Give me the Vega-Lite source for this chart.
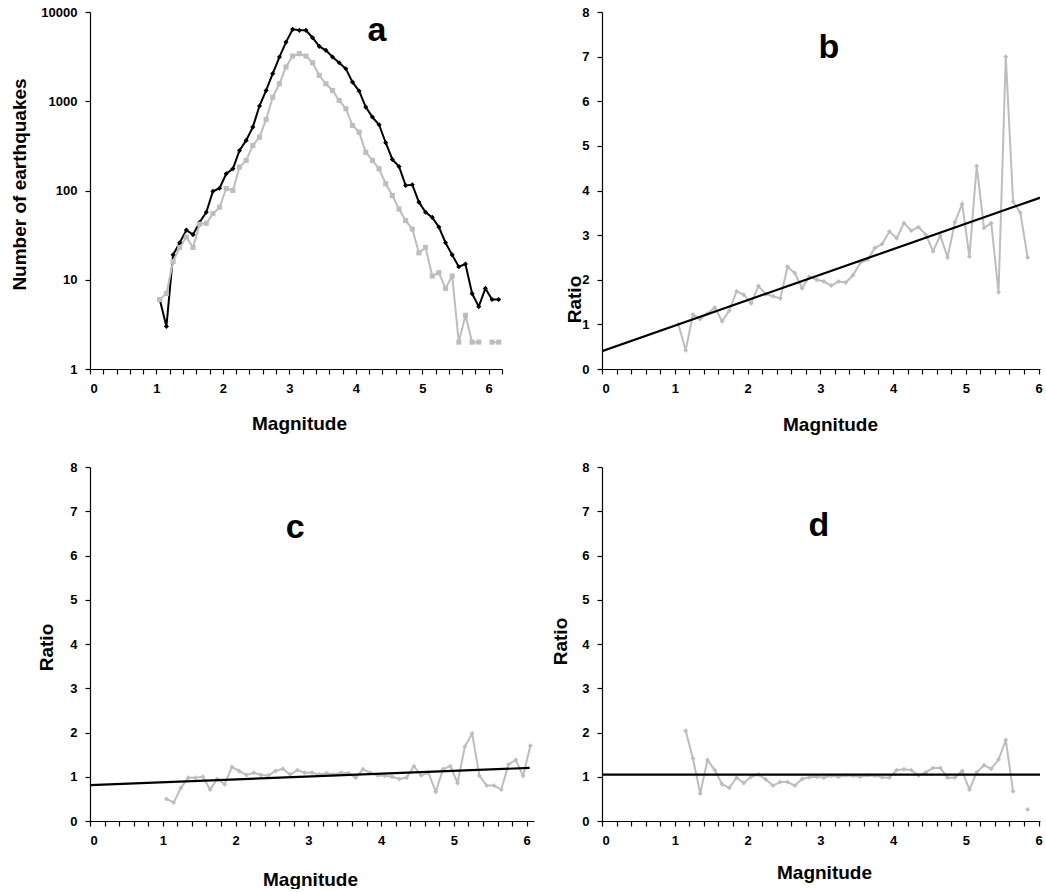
{
  "$schema": "https://vega.github.io/schema/vega-lite/v6.json",
  "background": "white",
  "padding": {"left": 10, "top": 6, "right": 0, "bottom": 0},
  "config": {
    "view": {"stroke": null},
    "font": "Liberation Sans",
    "axis": {
      "grid": false,
      "domainColor": "#000000", "domainWidth": 1.2,
      "tickColor": "#000000", "tickWidth": 1.2, "tickSize": 5,
      "labelColor": "#000000", "labelFont": "Liberation Sans", "labelFontSize": 13, "labelFontWeight": "bold", "labelPadding": 8,
      "labelOverlap": false,
      "titleColor": "#000000", "titleFont": "Liberation Sans", "titleFontSize": 19, "titleFontWeight": "bold",
      "titleBaseline": "middle", "titleAlign": "center"
    }
  },
  "datasets": {
    "counts": [
      {"m":1.05,"n_all":6,"n_sub":6},{"m":1.15,"n_all":3,"n_sub":7},{"m":1.25,"n_all":19,"n_sub":16},{"m":1.35,"n_all":26,"n_sub":23},
      {"m":1.45,"n_all":36,"n_sub":30},{"m":1.55,"n_all":32,"n_sub":23},{"m":1.65,"n_all":44,"n_sub":42},{"m":1.75,"n_all":57,"n_sub":43},
      {"m":1.85,"n_all":98,"n_sub":55},{"m":1.95,"n_all":106,"n_sub":65},{"m":2.05,"n_all":154,"n_sub":105},{"m":2.15,"n_all":175,"n_sub":100},
      {"m":2.25,"n_all":281,"n_sub":183},{"m":2.35,"n_all":364,"n_sub":217},{"m":2.45,"n_all":513,"n_sub":320},{"m":2.55,"n_all":883,"n_sub":396},
      {"m":2.65,"n_all":1320,"n_sub":625},{"m":2.75,"n_all":2040,"n_sub":1110},{"m":2.85,"n_all":3130,"n_sub":1570},{"m":2.95,"n_all":4600,"n_sub":2420},
      {"m":3.05,"n_all":6390,"n_sub":3210},{"m":3.15,"n_all":6230,"n_sub":3410},{"m":3.25,"n_all":6230,"n_sub":3210},{"m":3.35,"n_all":5150,"n_sub":2700},
      {"m":3.45,"n_all":4120,"n_sub":1950},{"m":3.55,"n_all":3720,"n_sub":1570},{"m":3.65,"n_all":3130,"n_sub":1320},{"m":3.75,"n_all":2700,"n_sub":1020},
      {"m":3.85,"n_all":2310,"n_sub":824},{"m":3.95,"n_all":1640,"n_sub":536},{"m":4.05,"n_all":1300,"n_sub":451},{"m":4.15,"n_all":860,"n_sub":268},
      {"m":4.25,"n_all":665,"n_sub":217},{"m":4.35,"n_all":545,"n_sub":175},{"m":4.45,"n_all":343,"n_sub":119},{"m":4.55,"n_all":223,"n_sub":88},
      {"m":4.65,"n_all":186,"n_sub":62},{"m":4.75,"n_all":114,"n_sub":46},{"m":4.85,"n_all":116,"n_sub":37},{"m":4.95,"n_all":74,"n_sub":20},
      {"m":5.05,"n_all":57,"n_sub":23},{"m":5.15,"n_all":50,"n_sub":11},{"m":5.25,"n_all":39,"n_sub":12},{"m":5.35,"n_all":26,"n_sub":8},
      {"m":5.45,"n_all":19,"n_sub":11},{"m":5.55,"n_all":14,"n_sub":2},{"m":5.65,"n_all":15,"n_sub":4},{"m":5.75,"n_all":7,"n_sub":2},
      {"m":5.85,"n_all":5,"n_sub":2},{"m":5.95,"n_all":8,"n_sub":null},{"m":6.05,"n_all":6,"n_sub":2},{"m":6.15,"n_all":6,"n_sub":2}
    ],
    "ratio_b": [
      {"m":1.05,"r":1.0},{"m":1.15,"r":0.42},{"m":1.25,"r":1.22},{"m":1.35,"r":1.12},{"m":1.45,"r":1.24},{"m":1.55,"r":1.38},
      {"m":1.65,"r":1.07},{"m":1.75,"r":1.31},{"m":1.85,"r":1.74},{"m":1.95,"r":1.66},{"m":2.05,"r":1.47},{"m":2.15,"r":1.86},
      {"m":2.25,"r":1.68},{"m":2.35,"r":1.63},{"m":2.45,"r":1.58},{"m":2.55,"r":2.29},{"m":2.65,"r":2.15},{"m":2.75,"r":1.81},
      {"m":2.85,"r":2.07},{"m":2.95,"r":2.0},{"m":3.05,"r":1.96},{"m":3.15,"r":1.87},{"m":3.25,"r":1.96},{"m":3.35,"r":1.94},
      {"m":3.45,"r":2.1},{"m":3.55,"r":2.38},{"m":3.65,"r":2.45},{"m":3.75,"r":2.71},{"m":3.85,"r":2.8},{"m":3.95,"r":3.08},
      {"m":4.05,"r":2.93},{"m":4.15,"r":3.27},{"m":4.25,"r":3.1},{"m":4.35,"r":3.18},{"m":4.45,"r":3.01},{"m":4.55,"r":2.64},
      {"m":4.65,"r":2.99},{"m":4.75,"r":2.5},{"m":4.85,"r":3.29},{"m":4.95,"r":3.7},{"m":5.05,"r":2.52},{"m":5.15,"r":4.55},
      {"m":5.25,"r":3.16},{"m":5.35,"r":3.27},{"m":5.45,"r":1.72},{"m":5.55,"r":7.0},{"m":5.65,"r":3.75},{"m":5.75,"r":3.5},
      {"m":5.85,"r":2.5},{"m":5.95,"r":null},{"m":6.05,"r":3.0},{"m":6.15,"r":3.0}
    ],
    "fit_b": [{"m":0,"r":0.4},{"m":6.05,"r":3.855}],
    "ratio_c": [
      {"m":1.05,"r":0.5},{"m":1.15,"r":0.42},{"m":1.25,"r":0.75},{"m":1.35,"r":0.98},{"m":1.45,"r":0.98},{"m":1.55,"r":1.0},
      {"m":1.65,"r":0.71},{"m":1.75,"r":0.95},{"m":1.85,"r":0.83},{"m":1.95,"r":1.22},{"m":2.05,"r":1.13},{"m":2.15,"r":1.04},
      {"m":2.25,"r":1.09},{"m":2.35,"r":1.04},{"m":2.45,"r":1.03},{"m":2.55,"r":1.13},{"m":2.65,"r":1.18},{"m":2.75,"r":1.05},
      {"m":2.85,"r":1.15},{"m":2.95,"r":1.09},{"m":3.05,"r":1.09},{"m":3.15,"r":1.05},{"m":3.25,"r":1.08},{"m":3.35,"r":1.05},
      {"m":3.45,"r":1.09},{"m":3.55,"r":1.08},{"m":3.65,"r":0.98},{"m":3.75,"r":1.17},{"m":3.85,"r":1.09},{"m":3.95,"r":1.03},
      {"m":4.05,"r":1.02},{"m":4.15,"r":1.0},{"m":4.25,"r":0.95},{"m":4.35,"r":0.98},{"m":4.45,"r":1.24},{"m":4.55,"r":1.03},
      {"m":4.65,"r":1.09},{"m":4.75,"r":0.66},{"m":4.85,"r":1.17},{"m":4.95,"r":1.24},{"m":5.05,"r":0.86},{"m":5.15,"r":1.68},
      {"m":5.25,"r":1.98},{"m":5.35,"r":1.02},{"m":5.45,"r":0.8},{"m":5.55,"r":0.8},{"m":5.65,"r":0.71},{"m":5.75,"r":1.28},
      {"m":5.85,"r":1.38},{"m":5.95,"r":1.02},{"m":6.05,"r":1.7}
    ],
    "fit_c": [{"m":0,"r":0.81},{"m":6.04,"r":1.2}],
    "ratio_d": [
      {"m":1.15,"r":2.04},{"m":1.25,"r":1.41},{"m":1.35,"r":0.62},{"m":1.45,"r":1.38},{"m":1.55,"r":1.15},{"m":1.65,"r":0.83},
      {"m":1.75,"r":0.75},{"m":1.85,"r":0.98},{"m":1.95,"r":0.86},{"m":2.05,"r":1.0},{"m":2.15,"r":1.05},{"m":2.25,"r":0.94},
      {"m":2.35,"r":0.8},{"m":2.45,"r":0.88},{"m":2.55,"r":0.88},{"m":2.65,"r":0.8},{"m":2.75,"r":0.95},{"m":2.85,"r":0.99},
      {"m":2.95,"r":1.0},{"m":3.05,"r":0.98},{"m":3.15,"r":1.02},{"m":3.25,"r":1.0},{"m":3.35,"r":1.03},{"m":3.45,"r":1.02},
      {"m":3.55,"r":1.0},{"m":3.65,"r":1.03},{"m":3.75,"r":1.02},{"m":3.85,"r":0.99},{"m":3.95,"r":0.98},{"m":4.05,"r":1.15},
      {"m":4.15,"r":1.17},{"m":4.25,"r":1.15},{"m":4.35,"r":1.03},{"m":4.45,"r":1.1},{"m":4.55,"r":1.2},{"m":4.65,"r":1.2},
      {"m":4.75,"r":0.98},{"m":4.85,"r":0.98},{"m":4.95,"r":1.13},{"m":5.05,"r":0.71},{"m":5.15,"r":1.1},{"m":5.25,"r":1.26},
      {"m":5.35,"r":1.18},{"m":5.45,"r":1.39},{"m":5.55,"r":1.83},{"m":5.65,"r":0.67},{"m":5.75,"r":null},{"m":5.85,"r":0.26}
    ],
    "fit_d": [{"m":0,"r":1.05},{"m":6.05,"r":1.05}]
  },
  "columns": 2,
  "bounds": "flush",
  "spacing": {"row": 98, "column": 68},
  "concat": [
    {
      "width": 412, "height": 357,
      "layer": [
        {
          "data": {"name": "counts"},
          "transform": [{"fold": ["n_all", "n_sub"], "as": ["series", "count"]}],
          "mark": {"type": "line", "strokeWidth": 2, "invalid": "break-paths-filter-domains"},
          "encoding": {
            "x": {"field": "m", "type": "quantitative", "scale": {"domain": [0, 6.2], "nice": false},
              "axis": {"title": "Magnitude", "tickCount": 100, "values": [0,0.2,0.4,0.6,0.8,1,1.2,1.4,1.6,1.8,2,2.2,2.4,2.6,2.8,3,3.2,3.4,3.6,3.8,4,4.2,4.4,4.6,4.8,5,5.2,5.4,5.6,5.8,6,6.2],
                "labelExpr": "abs(datum.value - round(datum.value)) < 0.01 ? format(datum.value, 'd') : ''", "titleX": 209, "titleY": 54}},
            "y": {"field": "count", "type": "quantitative", "scale": {"type": "log", "domain": [1, 10000], "nice": false},
              "axis": {"title": "Number of earthquakes", "tickCount": 100, "values": [1, 10, 100, 1000, 10000], "format": "d", "titleX": -71, "titleY": 172}},
            "color": {"field": "series", "type": "nominal", "scale": {"domain": ["n_all", "n_sub"], "range": ["#000000", "#bdbdbd"]}, "legend": null},
            "order": {"field": "m"}
          }
        },
        {
          "data": {"name": "counts"},
          "transform": [{"fold": ["n_all", "n_sub"], "as": ["series", "count"]}],
          "mark": {"type": "point", "filled": true, "opacity": 1, "size": 26},
          "encoding": {
            "x": {"field": "m", "type": "quantitative"},
            "y": {"field": "count", "type": "quantitative"},
            "color": {"field": "series", "type": "nominal", "legend": null},
            "shape": {"field": "series", "type": "nominal", "scale": {"domain": ["n_all", "n_sub"], "range": ["diamond", "square"]}, "legend": null}
          }
        },
        {
          "data": {"values": [{}]},
          "mark": {"type": "text", "fontSize": 34, "fontWeight": "bold", "font": "Liberation Sans", "baseline": "alphabetic", "align": "center", "color": "#000000"},
          "encoding": {"x": {"datum": 4.32}, "y": {"datum": 4770}, "text": {"value": "a"}}
        }
      ]
    },
    {
      "width": 438, "height": 357,
      "layer": [
        {
          "data": {"name": "ratio_b"},
          "mark": {"type": "line", "strokeWidth": 2, "color": "#bdbdbd", "clip": true, "invalid": "break-paths-filter-domains"},
          "encoding": {
            "x": {"field": "m", "type": "quantitative", "scale": {"domain": [0, 6.02], "nice": false},
              "axis": {"title": "Magnitude", "tickCount": 100, "values": [0,0.2,0.4,0.6,0.8,1,1.2,1.4,1.6,1.8,2,2.2,2.4,2.6,2.8,3,3.2,3.4,3.6,3.8,4,4.2,4.4,4.6,4.8,5,5.2,5.4,5.6,5.8,6],
                "labelExpr": "abs(datum.value - round(datum.value)) < 0.01 ? format(datum.value, 'd') : ''", "titleX": 228, "titleY": 55}},
            "y": {"field": "r", "type": "quantitative", "scale": {"domain": [0, 8], "nice": false},
              "axis": {"title": "Ratio", "tickCount": 100, "format": "d", "values": [0,1,2,3,4,5,6,7,8], "titleX": -28, "titleY": 287}}
          }
        },
        {
          "data": {"name": "ratio_b"},
          "mark": {"type": "point", "filled": true, "opacity": 1, "size": 24, "shape": "diamond", "color": "#bdbdbd", "clip": true},
          "encoding": {"x": {"field": "m", "type": "quantitative"}, "y": {"field": "r", "type": "quantitative"}}
        },
        {
          "data": {"name": "fit_b"},
          "mark": {"type": "line", "strokeWidth": 2.2, "color": "#000000", "clip": true},
          "encoding": {"x": {"field": "m", "type": "quantitative"}, "y": {"field": "r", "type": "quantitative"}}
        },
        {
          "data": {"values": [{}]},
          "mark": {"type": "text", "fontSize": 34, "fontWeight": "bold", "font": "Liberation Sans", "baseline": "alphabetic", "align": "center", "color": "#000000"},
          "encoding": {"x": {"datum": 3.12}, "y": {"datum": 6.97}, "text": {"value": "b"}}
        }
      ]
    },
    {
      "width": 444, "height": 354,
      "layer": [
        {
          "data": {"name": "ratio_c"},
          "mark": {"type": "line", "strokeWidth": 2, "color": "#bdbdbd", "clip": true, "invalid": "break-paths-filter-domains"},
          "encoding": {
            "x": {"field": "m", "type": "quantitative", "scale": {"domain": [0, 6.1], "nice": false},
              "axis": {"title": "Magnitude", "tickCount": 100, "values": [0,0.2,0.4,0.6,0.8,1,1.2,1.4,1.6,1.8,2,2.2,2.4,2.6,2.8,3,3.2,3.4,3.6,3.8,4,4.2,4.4,4.6,4.8,5,5.2,5.4,5.6,5.8,6],
                "labelExpr": "abs(datum.value - round(datum.value)) < 0.01 ? format(datum.value, 'd') : ''", "titleX": 220, "titleY": 58}},
            "y": {"field": "r", "type": "quantitative", "scale": {"domain": [0, 8], "nice": false},
              "axis": {"title": "Ratio", "tickCount": 100, "format": "d", "values": [0,1,2,3,4,5,6,7,8], "titleX": -44, "titleY": 180}}
          }
        },
        {
          "data": {"name": "ratio_c"},
          "mark": {"type": "point", "filled": true, "opacity": 1, "size": 24, "shape": "diamond", "color": "#bdbdbd", "clip": true},
          "encoding": {"x": {"field": "m", "type": "quantitative"}, "y": {"field": "r", "type": "quantitative"}}
        },
        {
          "data": {"name": "fit_c"},
          "mark": {"type": "line", "strokeWidth": 2.2, "color": "#000000", "clip": true},
          "encoding": {"x": {"field": "m", "type": "quantitative"}, "y": {"field": "r", "type": "quantitative"}}
        },
        {
          "data": {"values": [{}]},
          "mark": {"type": "text", "fontSize": 34, "fontWeight": "bold", "font": "Liberation Sans", "baseline": "alphabetic", "align": "center", "color": "#000000"},
          "encoding": {"x": {"datum": 2.82}, "y": {"datum": 6.39}, "text": {"value": "c"}}
        }
      ]
    },
    {
      "width": 438, "height": 354,
      "layer": [
        {
          "data": {"name": "ratio_d"},
          "mark": {"type": "line", "strokeWidth": 2, "color": "#bdbdbd", "clip": true, "invalid": "break-paths-filter-domains"},
          "encoding": {
            "x": {"field": "m", "type": "quantitative", "scale": {"domain": [0, 6.02], "nice": false},
              "axis": {"title": "Magnitude", "tickCount": 100, "values": [0,0.2,0.4,0.6,0.8,1,1.2,1.4,1.6,1.8,2,2.2,2.4,2.6,2.8,3,3.2,3.4,3.6,3.8,4,4.2,4.4,4.6,4.8,5,5.2,5.4,5.6,5.8,6],
                "labelExpr": "abs(datum.value - round(datum.value)) < 0.01 ? format(datum.value, 'd') : ''", "titleX": 222, "titleY": 51}},
            "y": {"field": "r", "type": "quantitative", "scale": {"domain": [0, 8], "nice": false},
              "axis": {"title": "Ratio", "tickCount": 100, "format": "d", "values": [0,1,2,3,4,5,6,7,8], "titleX": -42, "titleY": 174}}
          }
        },
        {
          "data": {"name": "ratio_d"},
          "mark": {"type": "point", "filled": true, "opacity": 1, "size": 24, "shape": "diamond", "color": "#bdbdbd", "clip": true},
          "encoding": {"x": {"field": "m", "type": "quantitative"}, "y": {"field": "r", "type": "quantitative"}}
        },
        {
          "data": {"name": "fit_d"},
          "mark": {"type": "line", "strokeWidth": 2.2, "color": "#000000", "clip": true},
          "encoding": {"x": {"field": "m", "type": "quantitative"}, "y": {"field": "r", "type": "quantitative"}}
        },
        {
          "data": {"values": [{}]},
          "mark": {"type": "text", "fontSize": 34, "fontWeight": "bold", "font": "Liberation Sans", "baseline": "alphabetic", "align": "center", "color": "#000000"},
          "encoding": {"x": {"datum": 2.98}, "y": {"datum": 6.43}, "text": {"value": "d"}}
        }
      ]
    }
  ]
}
